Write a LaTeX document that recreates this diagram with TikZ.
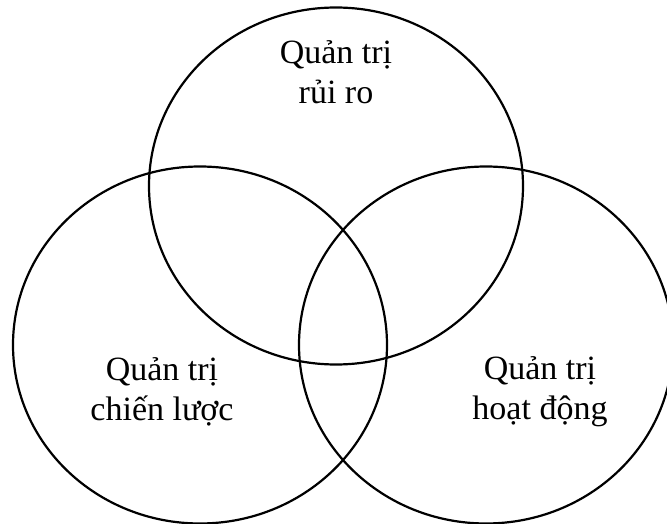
\documentclass[tikz,border=0pt]{standalone}
\usepackage{fontspec}
\setmainfont{Liberation Serif}
\usetikzlibrary{shapes.geometric}

\tikzset{
  set/.style={ellipse, draw=black, line width=2.2pt, inner sep=0pt, minimum width=374pt, minimum height=357pt},
  setname/.style={align=center, inner sep=0pt, font=\fontsize{34}{40}\selectfont}
}

\begin{document}
\begin{tikzpicture}[x=1pt, y=-1pt]
    \useasboundingbox (0,0) rectangle (667,524);

    %––––– sets –––––
    \node[set] (risk) at (336,186) {};
    \node[set] (strat) at (200,345) {};
    \node[set] (ops) at (486,345) {};

    %––––– labels –––––
    \node[setname] (riskname) at (336,72) {Quản trị\\rủi ro};
    \node[setname] (stratname) at (162,392) {Quản trị\\chiến lược};
    \node[setname] (opsname) at (540,392) {Quản trị\\hoạt động};
\end{tikzpicture}
\end{document}
